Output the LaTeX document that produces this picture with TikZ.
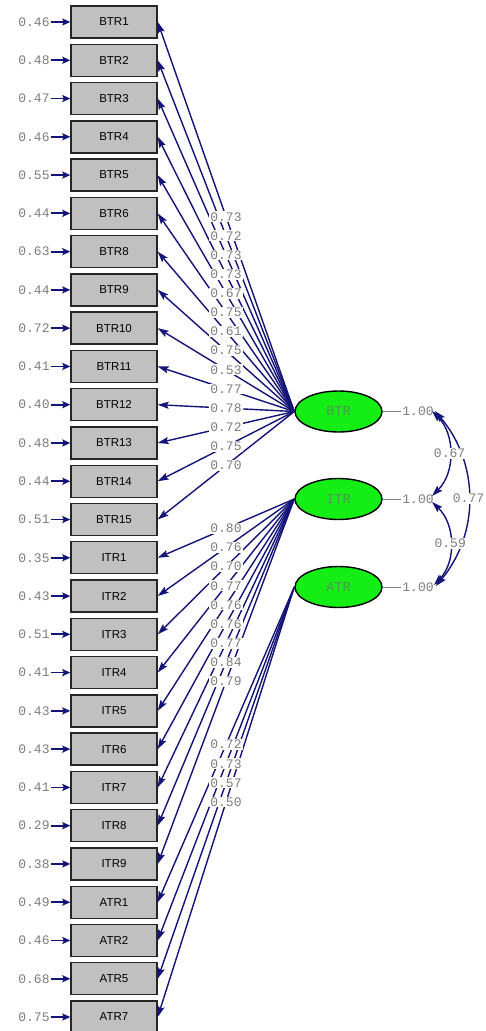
\documentclass[tikz,border=0pt]{standalone}
\usepackage{fontspec}
\setmainfont{Liberation Sans}
\newfontfamily\monofont{Liberation Mono}
\usetikzlibrary{arrows.meta,calc,shapes.geometric}
\definecolor{navyarrow}{RGB}{20,20,120}
\definecolor{boxgray}{RGB}{192,192,192}
\definecolor{latgreen}{RGB}{20,238,20}
\definecolor{labgray}{RGB}{125,125,125}
\definecolor{lattext}{RGB}{80,150,80}
\begin{document}
\begin{tikzpicture}[x=1pt,y=-1pt,
  obs/.style={draw=black!85, line width=1.4pt, fill=boxgray, minimum width=86pt, minimum height=32pt, inner sep=0pt, font=\fontsize{11.5}{11.5}\selectfont},
  lat/.style={ellipse, draw=black, line width=1.4pt, fill=latgreen, minimum width=87pt, minimum height=41pt, inner sep=0pt, font=\monofont\fontsize{13.5}{13.5}\selectfont, text=lattext},
  num/.style={font=\monofont\fontsize{13}{13}\selectfont, text=labgray, inner sep=1pt},
  numbg/.style={num, fill=white},
  load/.style={draw=navyarrow, line width=1.4pt, -{Stealth[length=11pt,width=7pt,inset=2pt]}},
  err/.style={draw=navyarrow, line width=1.8pt, -{Stealth[length=8pt,width=7pt,inset=1.5pt]}},
  cov/.style={draw=navyarrow, line width=1.4pt, {Stealth[length=11pt,width=7pt,inset=2pt]}-{Stealth[length=11pt,width=7pt,inset=2pt]}},
  fixline/.style={draw=labgray, line width=0.7pt}
]
\fill[white] (0,0) rectangle (486,1031);
\useasboundingbox (0,0) rectangle (486,1031);

% latent variables
\node[lat] (B) at (338.5,411.5) {BTR};
\node[lat] (I) at (338.5,499) {ITR};
\node[lat] (A) at (338.5,587) {ATR};

\def\items{BTR1/0.46/0.73/B, BTR2/0.48/0.72/B, BTR3/0.47/0.73/B, BTR4/0.46/0.73/B,
  BTR5/0.55/0.67/B, BTR6/0.44/0.75/B, BTR8/0.63/0.61/B, BTR9/0.44/0.75/B,
  BTR10/0.72/0.53/B, BTR11/0.41/0.77/B, BTR12/0.40/0.78/B, BTR13/0.48/0.72/B,
  BTR14/0.44/0.75/B, BTR15/0.51/0.70/B,
  ITR1/0.35/0.80/I, ITR2/0.43/0.76/I, ITR3/0.51/0.70/I, ITR4/0.41/0.77/I,
  ITR5/0.43/0.76/I, ITR6/0.43/0.76/I, ITR7/0.41/0.77/I, ITR8/0.29/0.84/I,
  ITR9/0.38/0.79/I,
  ATR1/0.49/0.72/A, ATR2/0.46/0.73/A, ATR5/0.68/0.57/A, ATR7/0.75/0.50/A}

% observed boxes and error terms
\foreach \nm/\er/\lm/\lt [count=\i from 0] in \items {
  \pgfmathsetmacro{\yy}{22+38.27*\i}
  \node[obs] (o\i) at (114,\yy) {\nm};
  \node[num] (e\i) at (34,\yy) {\er};
  \draw[err] (e\i.east) -- (o\i.west);
}

% loadings
\foreach \nm/\er/\lm/\lt [count=\i from 0] in \items {
  \draw[load] (\lt.west) -- coordinate[pos=0.5] (m\i) (o\i.east);
}
\foreach \nm/\er/\lm/\lt [count=\i from 0] in \items {
  \node[numbg] at (m\i) {\lm};
}

% fixed variances
\node[num] (vB) at (418,411.5) {1.00};
\node[num] (vI) at (418,499) {1.00};
\node[num] (vA) at (418,587) {1.00};
\draw[fixline] (B.east) -- (vB.west);
\draw[fixline] (I.east) -- (vI.west);
\draw[fixline] (A.east) -- (vA.west);

% covariances
\coordinate (cB1) at (432,411);
\coordinate (cI1) at (432,496);
\coordinate (cI2) at (432,502);
\coordinate (cA1) at (434,585);
\coordinate (cB2) at (435,411);
\coordinate (cA2) at (436,586);
\draw[cov] (cB2) to[bend left=40] node[numbg] {0.77} (cA2);
\draw[cov] (cB1) to[bend left=45] node[numbg] {0.67} (cI1);
\draw[cov] (cI2) to[bend left=45] node[numbg] {0.59} (cA1);
\end{tikzpicture}
\end{document}
